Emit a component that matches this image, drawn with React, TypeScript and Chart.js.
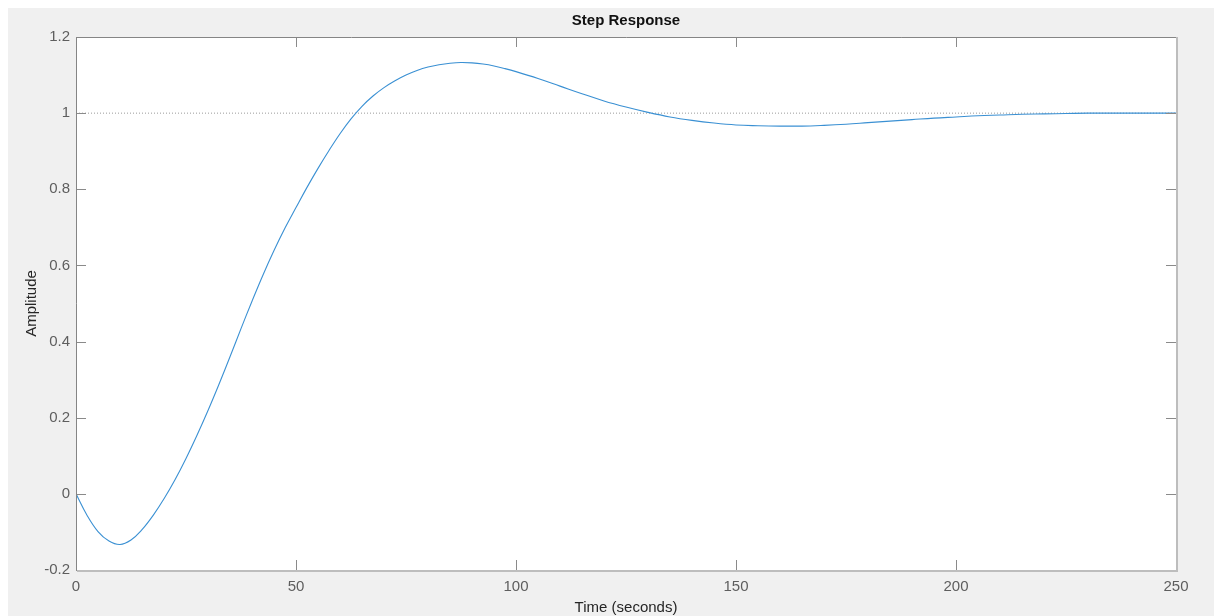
import React, { useEffect, useRef } from "react";
import { Chart, registerables } from "chart.js";

Chart.register(...registerables);

const TIME = [
  0, 2.5, 5, 7.5, 10, 12.5, 15, 17.5, 20, 22.5, 25, 27.5, 30, 32.5, 35, 37.5, 40,
  42.5, 45, 47.5, 50, 52.5, 55, 57.5, 60, 62.5, 65, 67.5, 70, 72.5, 75, 77.5, 80,
  82.5, 85, 87.5, 90, 92.5, 95, 97.5, 100, 105, 110, 115, 120, 125, 130, 135, 140,
  145, 150, 155, 160, 165, 170, 175, 180, 185, 190, 195, 200, 205, 210, 215, 220,
  225, 230, 240, 250,
];

const AMPLITUDE = [
  0, -0.056, -0.099, -0.124, -0.133, -0.121, -0.094, -0.057, -0.013, 0.037, 0.093,
  0.154, 0.219, 0.288, 0.36, 0.434, 0.506, 0.575, 0.639, 0.698, 0.752, 0.805, 0.855,
  0.902, 0.946, 0.985, 1.018, 1.045, 1.067, 1.085, 1.1, 1.112, 1.121, 1.127,
  1.131, 1.133, 1.132, 1.129, 1.124, 1.117, 1.109, 1.091, 1.071, 1.051, 1.032,
  1.016, 1.002, 0.99, 0.981, 0.974, 0.969, 0.967, 0.966, 0.966, 0.968, 0.971,
  0.975, 0.979, 0.983, 0.987, 0.99, 0.993, 0.995, 0.997, 0.998, 0.999, 1.0, 1.0, 1.0,
];

const FINAL_VALUE = 1;
const X_TICKS = [0, 50, 100, 150, 200, 250];
const Y_TICKS = [-0.2, 0, 0.2, 0.4, 0.6, 0.8, 1, 1.2];

const TITLE = "Step Response";
const X_LABEL = "Time (seconds)";
const Y_LABEL = "Amplitude";

const FONT = "'Liberation Sans', Arial, Helvetica, sans-serif";

const boxPlugin = {
  id: "matlabBox",
  afterDraw(chart: any) {
    const { ctx, chartArea } = chart;
    const { left, right, top, bottom } = chartArea;
    const xs = chart.scales.x;
    const ys = chart.scales.y;
    const len = 10;
    ctx.save();
    ctx.lineWidth = 1;
    ctx.strokeStyle = "#8a8a8a";
    ctx.beginPath();
    for (const v of X_TICKS) {
      const px = Math.round(xs.getPixelForValue(v)) + 0.5;
      ctx.moveTo(px, bottom);
      ctx.lineTo(px, bottom - len);
      ctx.moveTo(px, top);
      ctx.lineTo(px, top + len);
    }
    for (const v of Y_TICKS) {
      const py = Math.round(ys.getPixelForValue(v)) + 0.5;
      ctx.moveTo(left, py);
      ctx.lineTo(left + len, py);
      ctx.moveTo(right, py);
      ctx.lineTo(right - len, py);
    }
    ctx.stroke();
    ctx.strokeStyle = "#858585";
    ctx.beginPath();
    ctx.moveTo(Math.round(left) + 0.5, Math.round(bottom));
    ctx.lineTo(Math.round(left) + 0.5, Math.round(top) + 0.5);
    ctx.lineTo(Math.round(right), Math.round(top) + 0.5);
    ctx.stroke();
    ctx.strokeStyle = "#bdbdbd";
    ctx.lineWidth = 2;
    ctx.beginPath();
    ctx.moveTo(Math.round(left) + 1, Math.round(bottom) + 1);
    ctx.lineTo(Math.round(right) + 1, Math.round(bottom) + 1);
    ctx.lineTo(Math.round(right) + 1, Math.round(top));
    ctx.stroke();
    ctx.restore();
  },
};

const plotBgPlugin = {
  id: "plotBg",
  beforeDraw(chart: any) {
    const { ctx, chartArea, width, height } = chart;
    ctx.save();
    ctx.fillStyle = "#f0f0f0";
    ctx.fillRect(0, 0, width, height);
    ctx.fillStyle = "#ffffff";
    ctx.fillRect(chartArea.left, chartArea.top, chartArea.right - chartArea.left, chartArea.bottom - chartArea.top);
    ctx.restore();
  },
};

export default function App() {
  const ref = useRef<HTMLCanvasElement | null>(null);

  useEffect(() => {
    if (!ref.current) return;
    const stepData = TIME.map((t, i) => ({ x: t, y: AMPLITUDE[i] }));
    const refData = [
      { x: X_TICKS[0], y: FINAL_VALUE },
      { x: X_TICKS[X_TICKS.length - 1], y: FINAL_VALUE },
    ];
    const chart = new Chart(ref.current, {
      type: "line",
      data: {
        datasets: [
          {
            data: stepData,
            borderColor: "#3a90d3",
            borderWidth: 1.1,
            pointRadius: 0,
            tension: 0.4,
            order: 0,
          },
          {
            data: refData,
            borderColor: "#9a9a9a",
            borderWidth: 1,
            borderDash: [1, 2],
            pointRadius: 0,
            order: 1,
          },
        ],
      },
      options: {
        responsive: false,
        animation: false,
        events: [],
        layout: { padding: { left: 0, right: 38, top: 0, bottom: 0 } },
        plugins: {
          legend: { display: false },
          tooltip: { enabled: false },
          title: {
            display: true,
            text: TITLE,
            fullSize: false,
            color: "#111111",
            font: { family: FONT, size: 15, weight: "bold", lineHeight: 1.2 },
            padding: { top: 4, bottom: 7 },
          },
        },
        scales: {
          x: {
            type: "linear",
            min: 0,
            max: 250,
            afterBuildTicks: (s: any) => {
              s.ticks = X_TICKS.map((v) => ({ value: v }));
            },
            afterFit: (s: any) => {
              s.height = 46;
            },
            grid: { display: false, drawTicks: false },
            border: { display: false },
            ticks: {
              color: "#5e5e5e",
              font: { family: FONT, size: 15 },
              padding: 8,
              maxRotation: 0,
              autoSkip: false,
            },
            title: {
              display: true,
              text: X_LABEL,
              color: "#262626",
              font: { family: FONT, size: 15, lineHeight: 1 },
              padding: { top: 0, bottom: 0.5 },
            },
          },
          y: {
            type: "linear",
            min: -0.2,
            max: 1.2,
            afterBuildTicks: (s: any) => {
              s.ticks = Y_TICKS.map((v) => ({ value: v }));
            },
            afterFit: (s: any) => {
              s.width = 68;
            },
            grid: { display: false, drawTicks: false },
            border: { display: false },
            ticks: {
              color: "#5e5e5e",
              font: { family: FONT, size: 15 },
              padding: 6,
              autoSkip: false,
              callback: (v: any) => String(Number(Number(v).toFixed(1))),
            },
            title: {
              display: true,
              text: Y_LABEL,
              color: "#262626",
              font: { family: FONT, size: 15, lineHeight: 1.2 },
              padding: { top: 15, bottom: 0 },
            },
          },
        },
      },
      plugins: [plotBgPlugin, boxPlugin],
    } as any);
    return () => chart.destroy();
  }, []);

  return (
    <div
      style={{
        position: "fixed",
        left: 8,
        top: 8,
        width: 1206,
        height: 608,
        background: "#f0f0f0",
      }}
    >
      <canvas ref={ref} width={1206} height={608} style={{ display: "block" }} />
    </div>
  );
}
